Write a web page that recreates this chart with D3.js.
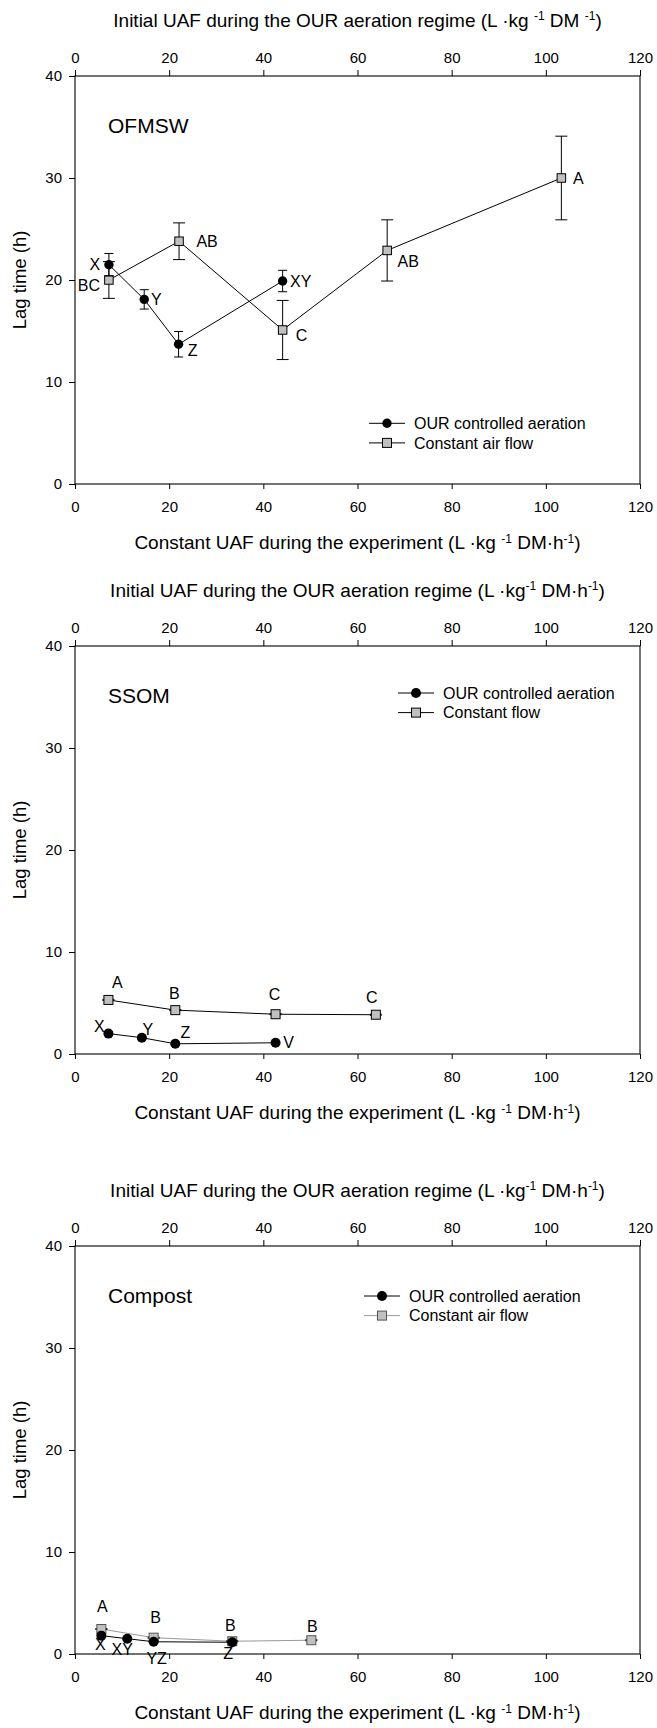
<!DOCTYPE html>
<html lang="en">
<head>
  <meta charset="UTF-8">
  <title>Lag time vs UAF</title>
  <script src="https://d3js.org/d3.v7.min.js"></script>
  <style>
  body { margin: 0; background: #fff; }
  text { font-family: "Liberation Sans", Arial, sans-serif; fill: #000; }
  </style>
</head>
<body>
<div id="chart"></div>
<script>

// ticks
const xTicks = [0, 20, 40, 60, 80, 100, 120];
const yTicks = [0, 10, 20, 30, 40];

// OFMSW
const ofmswOurUaf = [7.2, 14.7, 22.0, 44.1];
const ofmswOurLag = [21.5, 18.1, 13.7, 19.9];
const ofmswOurErr = [1.1, 0.95, 1.25, 1.05];
const ofmswOurGroups = ["X", "Y", "Z", "XY"];
const ofmswConstUaf = [7.2, 22.1, 44.1, 66.3, 103.3];
const ofmswConstLag = [20.0, 23.8, 15.1, 22.9, 30.0];
const ofmswConstErr = [1.8, 1.8, 2.9, 3.0, 4.1];
const ofmswConstGroups = ["BC", "AB", "C", "AB", "A"];

// SSOM
const ssomOurUaf = [7.1, 14.2, 21.3, 42.6];
const ssomOurLag = [2.0, 1.6, 1.0, 1.1];
const ssomOurErr = [0.05, 0.05, 0.05, 0.05];
const ssomOurGroups = ["X", "Y", "Z", "V"];
const ssomConstUaf = [7.1, 21.3, 42.6, 63.9];
const ssomConstLag = [5.3, 4.3, 3.9, 3.85];
const ssomConstErr = [0.05, 0.05, 0.05, 0.05];
const ssomConstGroups = ["A", "B", "C", "C"];

// Compost
const compostOurUaf = [5.6, 11.1, 16.7, 33.4];
const compostOurLag = [1.8, 1.5, 1.2, 1.15];
const compostOurErr = [0.05, 0.05, 0.05, 0.05];
const compostOurGroups = ["X", "XY", "YZ", "Z"];
const compostConstUaf = [5.6, 16.7, 33.4, 50.2];
const compostConstLag = [2.45, 1.6, 1.25, 1.35];
const compostConstErr = [0.05, 0.05, 0.05, 0.05];
const compostConstGroups = ["A", "B", "B", "B"];

// label offsets (px from the marker)
const ofmswOurLabelPos = [[-14, 0], [12, 0], [14, 6], [18, 0]];
const ofmswConstLabelPos = [[-20, 5], [28, 0], [19, 5], [21, 11], [17, 0]];
const ssomOurLabelPos = [[-9, -7], [6, -8], [10, -11], [13, 0]];
const ssomConstLabelPos = [[9, -18], [-1, -17], [-1, -20], [-4, -17]];
const compostOurLabelPos = [[-1, 9], [-5, 11], [3, 17], [-4, 11]];
const compostConstLabelPos = [[1, -23], [2, -20], [-2, -16], [1, -14]];

// axis titles, [text, superscript?]
const topTitle1 = [["Initial UAF during the OUR aeration regime (L ·kg ", 0], ["-1", 1], [" DM ", 0], ["-1", 1], [")", 0]];
const topTitle23 = [["Initial UAF during the OUR aeration regime (L ·kg", 0], ["-1", 1], [" DM·h", 0], ["-1", 1], [")", 0]];
const bottomTitle = [["Constant UAF during the experiment (L ·kg ", 0], ["-1", 1], [" DM·h", 0], ["-1", 1], [")", 0]];

const panels = [
  { name: "OFMSW", top: 76, topTitle: topTitle1,
    our: [ofmswOurUaf, ofmswOurLag, ofmswOurErr, ofmswOurGroups, ofmswOurLabelPos],
    cst: [ofmswConstUaf, ofmswConstLag, ofmswConstErr, ofmswConstGroups, ofmswConstLabelPos],
    legend: ["OUR controlled aeration", "Constant air flow"], legX: 369, legY: 347.3, cstColor: "#000", r: 4.7, sq: 8.5 },
  { name: "SSOM", top: 646, topTitle: topTitle23,
    our: [ssomOurUaf, ssomOurLag, ssomOurErr, ssomOurGroups, ssomOurLabelPos],
    cst: [ssomConstUaf, ssomConstLag, ssomConstErr, ssomConstGroups, ssomConstLabelPos],
    legend: ["OUR controlled aeration", "Constant flow"], legX: 398, legY: 47, cstColor: "#000", r: 5, sq: 9 },
  { name: "Compost", top: 1246, topTitle: topTitle23,
    our: [compostOurUaf, compostOurLag, compostOurErr, compostOurGroups, compostOurLabelPos],
    cst: [compostConstUaf, compostConstLag, compostConstErr, compostConstGroups, compostConstLabelPos],
    legend: ["OUR controlled aeration", "Constant air flow"], legX: 364, legY: 50, cstColor: "#999", r: 5, sq: 9 }
];

const W = 657, H = 1728;
const left = 75, right = 640, ph = 408;

const svg = d3.select("#chart").append("svg")
  .attr("width", W)
  .attr("height", H);

svg.append("rect").attr("width", W).attr("height", H).attr("fill", "#fff");

const x = d3.scaleLinear().domain([0, 120]).range([left, right]);

// text with superscript parts
const richText = (sel, parts) => {
  let raised = false;
  parts.forEach(p => {
    const t = sel.append("tspan").text(p[0]);
    if (p[1]) {
      t.attr("font-size", 12).attr("dy", -6.5);
      raised = true;
    } else if (raised) {
      t.attr("dy", 6.5);
      raised = false;
    }
  });
};

panels.forEach(p => {
  const y = d3.scaleLinear().domain([0, 40]).range([p.top + ph, p.top]);
  const g = svg.append("g");

  // axes
  const xb = g.append("g").attr("transform", `translate(0,${p.top + ph})`)
    .call(d3.axisBottom(x).tickValues(xTicks).tickSize(5).tickPadding(12).tickSizeOuter(0));
  const xt = g.append("g").attr("transform", `translate(0,${p.top})`)
    .call(d3.axisTop(x).tickValues(xTicks).tickSize(6).tickPadding(6.7).tickSizeOuter(0));
  const yl = g.append("g").attr("transform", `translate(${left},0)`)
    .call(d3.axisLeft(y).tickValues(yTicks).tickSize(6).tickPadding(7).tickSizeOuter(0));
  [xb, xt, yl].forEach(a => {
    a.select(".domain").remove();
    a.attr("font-family", null).attr("font-size", null);
    a.selectAll("text").attr("font-size", 15);
  });

  g.append("rect")
    .attr("x", left).attr("y", p.top)
    .attr("width", right - left).attr("height", ph)
    .attr("fill", "none").attr("stroke", "#000").attr("stroke-width", 1.1);

  // titles
  richText(g.append("text").attr("x", (left + right) / 2).attr("y", p.top - 49.3)
    .attr("text-anchor", "middle").attr("font-size", 19), p.topTitle);
  richText(g.append("text").attr("x", (left + right) / 2).attr("y", p.top + ph + 65.3)
    .attr("text-anchor", "middle").attr("font-size", 19), bottomTitle);

  g.append("text")
    .attr("transform", `translate(26,${p.top + ph / 2}) rotate(-90)`)
    .attr("text-anchor", "middle").attr("font-size", 18.5)
    .text("Lag time (h)");

  g.append("text").attr("x", 108).attr("y", p.top + 57.3)
    .attr("font-size", 21).text(p.name);

  const line = d3.line().x(d => x(d[0])).y(d => y(d[1]));

  const drawSeries = (s, isSquare, color) => {
    const [ux, lag, err, grp, pos] = s;
    const pts = ux.map((v, i) => [v, lag[i], err[i], grp[i], pos[i]]);
    const cap = isSquare ? 6 : 4.5;

    g.append("path").datum(pts)
      .attr("d", line)
      .attr("fill", "none").attr("stroke", color).attr("stroke-width", 1);

    // error bars
    const eb = g.selectAll(null).data(pts).enter().append("g");
    eb.append("line")
      .attr("x1", d => x(d[0])).attr("x2", d => x(d[0]))
      .attr("y1", d => y(d[1] - d[2])).attr("y2", d => y(d[1] + d[2]))
      .attr("stroke", "#000");
    [-1, 1].forEach(sgn => {
      eb.append("line")
        .attr("x1", d => x(d[0]) - cap).attr("x2", d => x(d[0]) + cap)
        .attr("y1", d => y(d[1] + sgn * d[2])).attr("y2", d => y(d[1] + sgn * d[2]))
        .attr("stroke", "#000");
    });

    if (isSquare) {
      g.selectAll(null).data(pts).enter().append("rect")
        .attr("x", d => x(d[0]) - p.sq / 2).attr("y", d => y(d[1]) - p.sq / 2)
        .attr("width", p.sq).attr("height", p.sq)
        .attr("fill", "#c0c0c0").attr("stroke", color === "#000" ? "#000" : "#555").attr("stroke-width", 1);
    } else {
      g.selectAll(null).data(pts).enter().append("circle")
        .attr("cx", d => x(d[0])).attr("cy", d => y(d[1])).attr("r", p.r)
        .attr("fill", "#000");
    }

    g.selectAll(null).data(pts).enter().append("text")
      .attr("x", d => x(d[0]) + d[4][0])
      .attr("y", d => y(d[1]) + d[4][1] + 5.6)
      .attr("text-anchor", "middle").attr("font-size", 16)
      .text(d => d[3]);
  };

  drawSeries(p.cst, true, p.cstColor);
  drawSeries(p.our, false, "#000");

  // legend
  const leg = g.append("g");
  p.legend.forEach((lab, i) => {
    const ly = p.top + p.legY + i * 19.6;
    const col = i === 1 ? p.cstColor : "#000";
    leg.append("line").attr("x1", p.legX).attr("x2", p.legX + 36)
      .attr("y1", ly).attr("y2", ly).attr("stroke", col);
    if (i === 0) {
      leg.append("circle").attr("cx", p.legX + 18).attr("cy", ly).attr("r", p.r).attr("fill", "#000");
    } else {
      leg.append("rect").attr("x", p.legX + 18 - 4.5).attr("y", ly - 4.5)
        .attr("width", 9).attr("height", 9).attr("fill", "#c0c0c0")
        .attr("stroke", col === "#000" ? "#000" : "#555");
    }
    leg.append("text").attr("x", p.legX + 45).attr("y", ly + 5.6)
      .attr("font-size", 16).text(lab);
  });
});

</script>
</body>
</html>
